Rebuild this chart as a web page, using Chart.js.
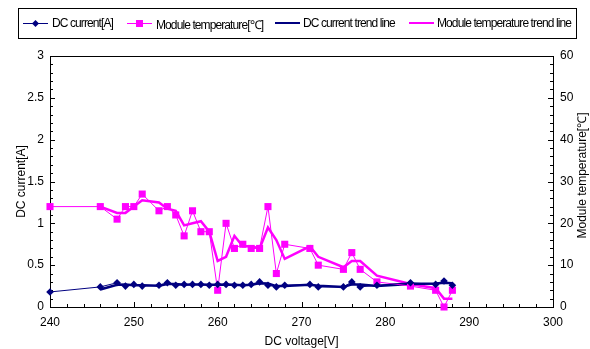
<!DOCTYPE html>
<html>
<head>
<meta charset="utf-8">
<script src="https://cdn.jsdelivr.net/npm/chart.js@4.4.1/dist/chart.umd.min.js"></script>
<style>
  body { margin: 0; background: #fff; }
  #wrap { position: relative; width: 590px; height: 349px; }
  #legend {
    position: absolute; left: 18px; top: 8px; width: 559px; height: 31px;
    border: 1px solid #000; box-sizing: border-box;
    font-family: "Liberation Sans", Arial, sans-serif; font-size: 12px; letter-spacing: -0.9px;
  }
  .item { position: absolute; top: 7px; white-space: nowrap; }
  .sw { position: absolute; top: 14px; height: 1px; }
  .mk { position: absolute; }
</style>
</head>
<body>
<div id="wrap">
  <canvas id="grafico" width="590" height="349"></canvas>
  <div id="legend"></div>
</div>
<script>
// datos
const voltaje = [240, 246, 248, 249, 250, 251, 253, 254, 255, 256, 257, 258, 259, 260, 261, 262,
                 263, 264, 265, 266, 267, 268, 271, 272, 275, 276, 277, 279, 283, 286, 287, 288];
const corriente = [0.18, 0.24, 0.29, 0.25, 0.27, 0.25, 0.26, 0.29, 0.26, 0.27, 0.27, 0.27, 0.26, 0.27, 0.27, 0.26,
                   0.26, 0.27, 0.30, 0.26, 0.24, 0.26, 0.27, 0.24, 0.24, 0.30, 0.24, 0.26, 0.29, 0.27, 0.31, 0.26];
const temperatura = [24, 24, 21, 24, 24, 27, 23, 24, 22, 17, 23, 18, 18, 4, 20, 14,
                     15, 14, 14, 24, 8, 15, 14, 10, 9, 13, 9, 6, 5, 4, 0, 4];

// líneas de tendencia (media móvil, empiezan en el segundo punto)
const voltajeTendencia = voltaje.slice(1);
const corrienteTendencia = [0.21, 0.265, 0.27, 0.26, 0.26, 0.255, 0.275, 0.275, 0.265, 0.27, 0.27, 0.265, 0.265, 0.27, 0.265,
                            0.26, 0.265, 0.285, 0.28, 0.25, 0.25, 0.265, 0.255, 0.24, 0.27, 0.27, 0.25, 0.275, 0.28, 0.29, 0.285];
const temperaturaTendencia = [24, 22.5, 22.5, 24, 25.5, 25, 23.5, 23, 19.5, 20, 20.5, 18, 11, 12, 17,
                              14.5, 14.5, 14, 19, 16, 11.5, 14.5, 12, 9.5, 11, 11, 7.5, 5.5, 4.5, 2, 2];

const ticksX = [240, 250, 260, 270, 280, 290, 300];
const etiquetas = ['DC current[A]', 'Module temperature[℃]', 'DC current trend line', 'Module temperature trend line'];
const tituloDerecho = 'Module temperature[℃]';

const AZUL = '#000080';
const ROSA = '#FF00FF';
const FUENTE = '"Liberation Sans", Arial, sans-serif';

const puntos = (xs, ys) => xs.map((x, i) => ({ x: x, y: ys[i] }));

// leyenda en HTML
const leyenda = document.getElementById('legend');
const items = [
    { lineaX: 4, textoX: 33, color: AZUL, ancho: 1, marca: 'diamante' },
    { lineaX: 108, textoX: 137, color: ROSA, ancho: 1, marca: 'cuadro' },
    { lineaX: 256, textoX: 284, color: AZUL, ancho: 2.5, marca: null },
    { lineaX: 390, textoX: 418, color: ROSA, ancho: 2.5, marca: null }
];
items.forEach((it, i) => {
    const sw = document.createElement('div');
    sw.className = 'sw';
    sw.style.left = it.lineaX + 'px';
    sw.style.width = '25px';
    sw.style.height = it.ancho + 'px';
    sw.style.top = (14 - it.ancho / 2) + 'px';
    sw.style.background = it.color;
    leyenda.appendChild(sw);
    if (it.marca) {
        const mk = document.createElement('div');
        mk.className = 'mk';
        mk.style.background = it.color;
        if (it.marca === 'diamante') {
            mk.style.width = '5px'; mk.style.height = '5px';
            mk.style.left = (it.lineaX + 10) + 'px'; mk.style.top = '11.5px';
            mk.style.transform = 'rotate(45deg)';
        } else {
            mk.style.width = '7px'; mk.style.height = '7px';
            mk.style.left = (it.lineaX + 9) + 'px'; mk.style.top = '10.5px';
        }
        leyenda.appendChild(mk);
    }
    const t = document.createElement('span');
    t.className = 'item';
    t.style.left = it.textoX + 'px';
    t.textContent = etiquetas[i];
    leyenda.appendChild(t);
});

// marco, marcas de escala hacia adentro y título del eje derecho (de abajo hacia arriba)
const marcoPlugin = {
    id: 'marco',
    beforeDatasetsDraw(chart) {
        const { ctx, chartArea: a, scales } = chart;
        ctx.save();
        ctx.strokeStyle = '#000';
        ctx.lineWidth = 1;
        ctx.beginPath();
        for (let v = 240; v <= 300; v += 2) {
            const px = Math.round(scales.x.getPixelForValue(v)) + 0.5;
            const l = v % 10 === 0 ? 5 : 3;
            ctx.moveTo(px, a.bottom); ctx.lineTo(px, a.bottom - l);
        }
        for (let k = 0; k <= 30; k++) {
            const py = Math.round(scales.y.getPixelForValue(k / 10)) + 0.5;
            const l = k % 5 === 0 ? 5 : 3;
            ctx.moveTo(a.left, py); ctx.lineTo(a.left + l, py);
        }
        for (let v = 0; v <= 60; v += 2) {
            const py = Math.round(scales.y2.getPixelForValue(v)) + 0.5;
            const l = v % 10 === 0 ? 5 : 3;
            ctx.moveTo(a.right, py); ctx.lineTo(a.right - l, py);
        }
        ctx.stroke();
        ctx.strokeRect(Math.round(a.left) + 0.5, Math.round(a.top) + 0.5,
            Math.round(a.right - a.left), Math.round(a.bottom - a.top));

        ctx.translate(583, (a.top + a.bottom) / 2 - 6);
        ctx.rotate(-Math.PI / 2);
        ctx.fillStyle = '#000';
        ctx.font = '12px ' + FUENTE;
        ctx.textAlign = 'center';
        ctx.textBaseline = 'middle';
        ctx.fillText(tituloDerecho, 0, 0);
        ctx.restore();
    }
};

Chart.defaults.font.family = FUENTE;
Chart.defaults.font.size = 12;
Chart.defaults.color = '#000';

new Chart(document.getElementById('grafico').getContext('2d'), {
    type: 'line',
    data: {
        datasets: [
            {
                label: etiquetas[0],
                data: puntos(voltaje, corriente),
                yAxisID: 'y',
                borderColor: AZUL,
                backgroundColor: AZUL,
                borderWidth: 1,
                pointStyle: 'rectRot',
                pointRadius: 3.8,
                pointBorderWidth: 0,
                clip: false,
                order: 1
            },
            {
                label: etiquetas[1],
                data: puntos(voltaje, temperatura),
                yAxisID: 'y2',
                borderColor: ROSA,
                backgroundColor: ROSA,
                borderWidth: 1,
                pointStyle: 'rect',
                pointRadius: 5,
                pointBorderWidth: 0,
                clip: false,
                order: 2
            },
            {
                label: etiquetas[2],
                data: puntos(voltajeTendencia, corrienteTendencia),
                yAxisID: 'y',
                borderColor: AZUL,
                borderWidth: 2.5,
                pointRadius: 0,
                clip: false,
                order: 3
            },
            {
                label: etiquetas[3],
                data: puntos(voltajeTendencia, temperaturaTendencia),
                yAxisID: 'y2',
                borderColor: ROSA,
                borderWidth: 2.5,
                pointRadius: 0,
                clip: false,
                order: 4
            }
        ]
    },
    options: {
        responsive: false,
        animation: false,
        layout: { padding: { top: 56 } },
        plugins: {
            legend: { display: false },
            tooltip: { enabled: false }
        },
        scales: {
            x: {
                type: 'linear',
                min: 240,
                max: 300,
                afterBuildTicks: (s) => { s.ticks = ticksX.map(v => ({ value: v })); },
                grid: { display: false, drawTicks: false },
                border: { display: false },
                ticks: { padding: 8 },
                title: { display: true, text: 'DC voltage[V]', padding: { top: 0, bottom: 0 } },
                afterFit: (s) => { s.height = 42; }
            },
            y: {
                position: 'left',
                min: 0,
                max: 3,
                ticks: { stepSize: 0.5, padding: 6, callback: (v) => String(v) },
                grid: { display: false, drawTicks: false },
                border: { display: false },
                title: { display: true, text: 'DC current[A]', padding: { top: 14, bottom: 0 } },
                afterFit: (s) => { s.width = 50; }
            },
            y2: {
                position: 'right',
                min: 0,
                max: 60,
                ticks: { stepSize: 10, padding: 7 },
                grid: { display: false, drawTicks: false },
                border: { display: false },
                afterFit: (s) => { s.width = 37; }
            }
        }
    },
    plugins: [marcoPlugin]
});
</script>
</body>
</html>
